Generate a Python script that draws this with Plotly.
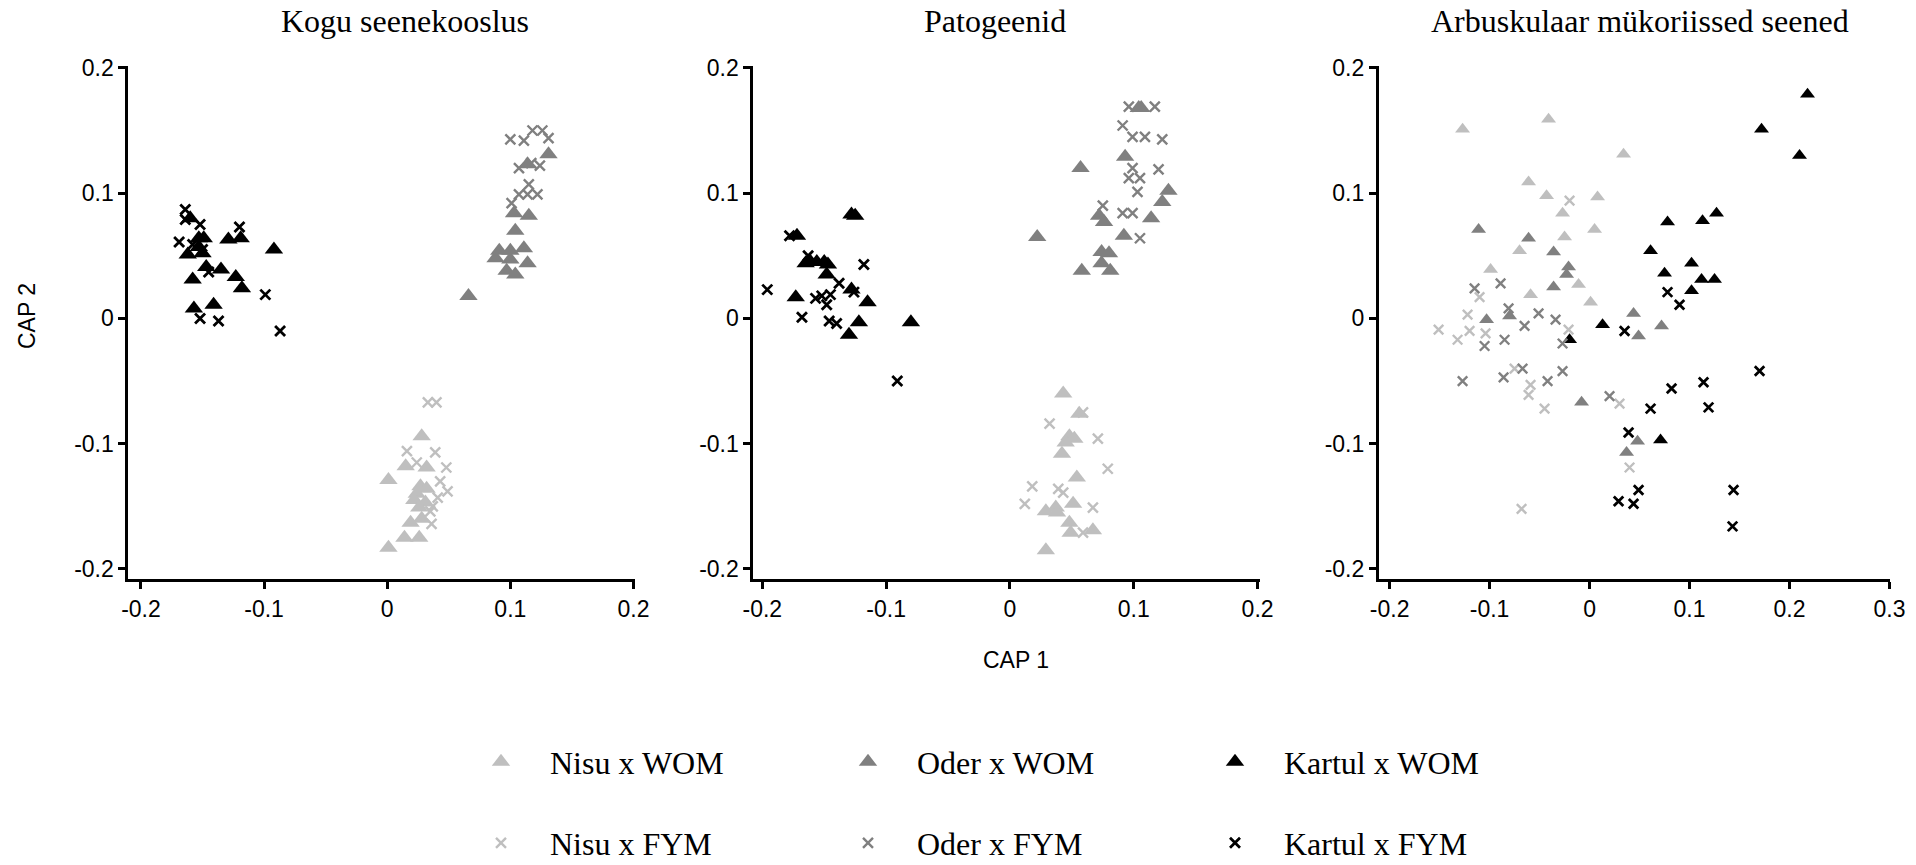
import plotly.graph_objects as go

W, H = 1916, 865

# ---------------- data ----------------
# Panel 1: Kogu seenekooslus
p1_nisu_wom_x = [0.028, 0.015, 0.032, 0.001, 0.027, 0.032, 0.024, 0.022, 0.031, 0.019, 0.028, 0.014, 0.026, 0.001, 0.026]
p1_nisu_wom_y = [-0.094, -0.118, -0.119, -0.129, -0.134, -0.136, -0.140, -0.145, -0.147, -0.163, -0.160, -0.175, -0.175, -0.183, -0.151]
p1_oder_wom_x = [0.131, 0.114, 0.103, 0.115, 0.104, 0.091, 0.100, 0.111, 0.088, 0.100, 0.114, 0.097, 0.104, 0.066]
p1_oder_wom_y = [0.131, 0.123, 0.084, 0.082, 0.070, 0.054, 0.054, 0.056, 0.048, 0.047, 0.044, 0.038, 0.035, 0.018]
p1_kartul_wom_x = [-0.160, -0.153, -0.149, -0.162, -0.129, -0.119, -0.092, -0.147, -0.135, -0.158, -0.123, -0.118, -0.157, -0.141, -0.153, -0.150]
p1_kartul_wom_y = [0.080, 0.064, 0.064, 0.051, 0.063, 0.064, 0.055, 0.041, 0.039, 0.031, 0.033, 0.024, 0.008, 0.011, 0.057, 0.052]
p1_nisu_fym_x = [0.033, 0.040, 0.016, 0.039, 0.024, 0.048, 0.043, 0.049, 0.041, 0.037, 0.035, 0.036]
p1_nisu_fym_y = [-0.067, -0.067, -0.106, -0.107, -0.115, -0.119, -0.130, -0.138, -0.143, -0.150, -0.154, -0.164]
p1_oder_fym_x = [0.100, 0.111, 0.118, 0.126, 0.131, 0.107, 0.117, 0.124, 0.115, 0.107, 0.114, 0.122, 0.101]
p1_oder_fym_y = [0.143, 0.142, 0.150, 0.150, 0.144, 0.120, 0.124, 0.122, 0.107, 0.099, 0.099, 0.099, 0.092]
p1_kartul_fym_x = [-0.164, -0.164, -0.152, -0.169, -0.158, -0.150, -0.120, -0.145, -0.099, -0.152, -0.137, -0.087]
p1_kartul_fym_y = [0.087, 0.079, 0.075, 0.061, 0.059, 0.055, 0.073, 0.037, 0.019, 0.000, -0.002, -0.010]

# Panel 2: Patogeenid
p2_nisu_wom_x = [0.043, 0.056, 0.048, 0.052, 0.045, 0.042, 0.054, 0.037, 0.029, 0.051, 0.048, 0.049, 0.067, 0.029, 0.038]
p2_nisu_wom_y = [-0.060, -0.076, -0.094, -0.096, -0.099, -0.108, -0.127, -0.151, -0.154, -0.148, -0.163, -0.171, -0.169, -0.185, -0.155]
p2_oder_wom_x = [0.104, 0.106, 0.057, 0.093, 0.128, 0.123, 0.022, 0.072, 0.076, 0.114, 0.092, 0.074, 0.080, 0.058, 0.074, 0.081]
p2_oder_wom_y = [0.168, 0.168, 0.120, 0.129, 0.102, 0.093, 0.065, 0.082, 0.077, 0.080, 0.066, 0.053, 0.052, 0.038, 0.044, 0.038]
p2_kartul_wom_x = [-0.128, -0.125, -0.172, -0.161, -0.156, -0.150, -0.147, -0.165, -0.148, -0.173, -0.128, -0.115, -0.122, -0.130, -0.080]
p2_kartul_wom_y = [0.083, 0.082, 0.066, 0.045, 0.045, 0.045, 0.043, 0.044, 0.035, 0.017, 0.023, 0.013, -0.003, -0.013, -0.003]
p2_nisu_fym_x = [0.032, 0.059, 0.071, 0.079, 0.018, 0.039, 0.012, 0.067, 0.059, 0.043]
p2_nisu_fym_y = [-0.084, -0.075, -0.096, -0.120, -0.134, -0.136, -0.148, -0.151, -0.171, -0.139]
p2_oder_fym_x = [0.096, 0.117, 0.091, 0.099, 0.109, 0.123, 0.099, 0.120, 0.096, 0.105, 0.103, 0.075, 0.091, 0.099, 0.105]
p2_oder_fym_y = [0.169, 0.169, 0.154, 0.145, 0.145, 0.143, 0.120, 0.119, 0.112, 0.112, 0.101, 0.090, 0.084, 0.084, 0.064]
p2_kartul_fym_x = [-0.196, -0.178, -0.163, -0.168, -0.157, -0.148, -0.145, -0.138, -0.146, -0.140, -0.126, -0.118, -0.091, -0.152]
p2_kartul_fym_y = [0.023, 0.066, 0.050, 0.001, 0.016, 0.011, 0.019, 0.028, -0.002, -0.004, 0.021, 0.043, -0.050, 0.018]

# Panel 3: Arbuskulaar mükoriissed seened
p3_nisu_wom_x = [-0.127, -0.041, 0.034, -0.061, -0.043, 0.008, -0.027, -0.025, 0.005, -0.070, -0.099, -0.011, -0.059, 0.001]
p3_nisu_wom_y = [0.151, 0.159, 0.131, 0.109, 0.098, 0.097, 0.084, 0.065, 0.071, 0.054, 0.039, 0.027, 0.019, 0.013]
p3_oder_wom_x = [-0.111, -0.061, -0.036, -0.021, -0.023, -0.036, -0.103, -0.080, 0.044, 0.049, 0.072, -0.008, 0.048, 0.037]
p3_oder_wom_y = [0.071, 0.064, 0.053, 0.041, 0.035, 0.025, -0.001, 0.002, 0.004, -0.014, -0.006, -0.067, -0.098, -0.107]
p3_kartul_wom_x = [0.218, 0.172, 0.210, 0.127, 0.113, 0.078, 0.061, 0.102, 0.075, 0.112, 0.125, 0.102, 0.013, -0.020, 0.071]
p3_kartul_wom_y = [0.179, 0.151, 0.130, 0.084, 0.078, 0.077, 0.054, 0.044, 0.036, 0.031, 0.031, 0.022, -0.005, -0.017, -0.097]
p3_nisu_fym_x = [-0.020, -0.110, -0.122, -0.151, -0.120, -0.132, -0.104, -0.021, -0.075, -0.059, -0.061, -0.045, 0.030, 0.040, -0.068]
p3_nisu_fym_y = [0.094, 0.017, 0.003, -0.009, -0.010, -0.017, -0.012, -0.009, -0.040, -0.053, -0.061, -0.072, -0.068, -0.119, -0.152]
p3_oder_fym_x = [-0.115, -0.089, -0.081, -0.051, -0.034, -0.065, -0.105, -0.085, -0.027, -0.127, -0.086, -0.067, -0.042, -0.027, 0.020]
p3_oder_fym_y = [0.024, 0.028, 0.008, 0.004, -0.001, -0.006, -0.022, -0.017, -0.020, -0.050, -0.047, -0.040, -0.050, -0.042, -0.062]
p3_kartul_fym_x = [0.078, 0.090, 0.035, 0.170, 0.082, 0.114, 0.061, 0.119, 0.039, 0.049, 0.029, 0.044, 0.144, 0.143]
p3_kartul_fym_y = [0.021, 0.011, -0.010, -0.042, -0.056, -0.051, -0.072, -0.071, -0.091, -0.137, -0.146, -0.148, -0.137, -0.166]

panel_titles = ["Kogu seenekooslus", "Patogeenid", "Arbuskulaar mükoriissed seened"]
group_names = ["Nisu x WOM", "Oder x WOM", "Kartul x WOM", "Nisu x FYM", "Oder x FYM", "Kartul x FYM"]
x_tickvals_12 = [-0.2, -0.1, 0, 0.1, 0.2]
x_ticktext_12 = ["-0.2", "-0.1", "0", "0.1", "0.2"]
x_tickvals_3 = [-0.2, -0.1, 0, 0.1, 0.2, 0.3]
x_ticktext_3 = ["-0.2", "-0.1", "0", "0.1", "0.2", "0.3"]
y_tickvals = [-0.2, -0.1, 0, 0.1, 0.2]
y_ticktext = ["-0.2", "-0.1", "0", "0.1", "0.2"]

# ---------------- styling ----------------
LIGHT, MID, DARK = "#bfbfbf", "#808080", "#000000"
colors = [LIGHT, MID, DARK, LIGHT, MID, DARK]
SERIF = "Liberation Serif, Times New Roman, serif"
SANS = "Liberation Sans, Arial, sans-serif"

panels = [
    [(p1_nisu_wom_x, p1_nisu_wom_y), (p1_oder_wom_x, p1_oder_wom_y), (p1_kartul_wom_x, p1_kartul_wom_y),
     (p1_nisu_fym_x, p1_nisu_fym_y), (p1_oder_fym_x, p1_oder_fym_y), (p1_kartul_fym_x, p1_kartul_fym_y)],
    [(p2_nisu_wom_x, p2_nisu_wom_y), (p2_oder_wom_x, p2_oder_wom_y), (p2_kartul_wom_x, p2_kartul_wom_y),
     (p2_nisu_fym_x, p2_nisu_fym_y), (p2_oder_fym_x, p2_oder_fym_y), (p2_kartul_fym_x, p2_kartul_fym_y)],
    [(p3_nisu_wom_x, p3_nisu_wom_y), (p3_oder_wom_x, p3_oder_wom_y), (p3_kartul_wom_x, p3_kartul_wom_y),
     (p3_nisu_fym_x, p3_nisu_fym_y), (p3_oder_fym_x, p3_oder_fym_y), (p3_kartul_fym_x, p3_kartul_fym_y)],
]
tri_sizes = [16, 16, 13]
x_sizes = [10, 10, 9.5]

fig = go.Figure()
for pi, groups in enumerate(panels):
    xa = "x" if pi == 0 else f"x{pi+1}"
    ya = "y" if pi == 0 else f"y{pi+1}"
    for gi, (gx, gy) in enumerate(groups):
        is_wom = gi < 3
        col = colors[gi]
        if is_wom:
            marker = dict(symbol="triangle-up", size=tri_sizes[pi], color=col, line=dict(width=0))
        else:
            marker = dict(symbol="x-thin", size=x_sizes[pi], color=col,
                          line=dict(width=2.8 if col == DARK else 2.4, color=col))
        fig.add_trace(go.Scatter(
            x=gx, y=gy, mode="markers", marker=marker, name=group_names[gi],
            xaxis=xa, yaxis=ya, showlegend=(pi == 0),
            legend="legend" if is_wom else "legend2",
            hoverinfo="skip",
        ))

def px_x(p):
    return p / W

def px_y(p):
    return 1 - p / H

ydom = [px_y(579), px_y(66)]
axis_common = dict(showline=True, linewidth=3, linecolor="black", mirror=False,
                   ticks="outside", ticklen=7, tickwidth=3, tickcolor="black",
                   showgrid=False, zeroline=False,
                   tickfont=dict(family=SANS, size=23, color="black"))

legend_common = dict(orientation="h", x=px_x(452), xanchor="left", yanchor="middle",
                     font=dict(family=SERIF, size=32, color="black"), itemwidth=88,
                     entrywidth=264, entrywidthmode="pixels",
                     bgcolor="rgba(0,0,0,0)", borderwidth=0)

fig.update_layout(
    width=W, height=H,
    margin=dict(l=0, r=0, t=0, b=0, autoexpand=False),
    paper_bgcolor="white", plot_bgcolor="white",
    xaxis=dict(domain=[px_x(128.4), px_x(634.7)], range=[-0.2102, 0.201], anchor="y",
               tickmode="array", tickvals=x_tickvals_12, ticktext=x_ticktext_12, **axis_common),
    yaxis=dict(domain=ydom, range=[-0.208, 0.2015], anchor="x",
               tickmode="array", tickvals=y_tickvals, ticktext=y_ticktext, **axis_common),
    xaxis2=dict(domain=[px_x(753.4), px_x(1259.7)], range=[-0.2072, 0.2017], anchor="y2",
                tickmode="array", tickvals=x_tickvals_12, ticktext=x_ticktext_12, **axis_common),
    yaxis2=dict(domain=ydom, range=[-0.208, 0.2015], anchor="x2",
                tickmode="array", tickvals=y_tickvals, ticktext=y_ticktext, **axis_common),
    xaxis3=dict(domain=[px_x(1378.9), px_x(1890)], range=[-0.2107, 0.3005], anchor="y3",
                tickmode="array", tickvals=x_tickvals_3, ticktext=x_ticktext_3, **axis_common),
    yaxis3=dict(domain=ydom, range=[-0.208, 0.2015], anchor="x3",
                tickmode="array", tickvals=y_tickvals, ticktext=y_ticktext, **axis_common),
    legend=dict(y=px_y(762), **legend_common),
    legend2=dict(y=px_y(843), **legend_common),
)

title_x = [405, 995, 1640]
for t, tx in zip(panel_titles, title_x):
    fig.add_annotation(text=t, x=px_x(tx), y=px_y(21), xref="paper", yref="paper",
                       xanchor="center", yanchor="middle", showarrow=False,
                       font=dict(family=SERIF, size=32, color="black"))

fig.add_annotation(text="CAP 2", x=px_x(27), y=px_y(316), xref="paper", yref="paper",
                   xanchor="center", yanchor="middle", showarrow=False, textangle=-90,
                   font=dict(family=SANS, size=23, color="black"))
fig.add_annotation(text="CAP 1", x=px_x(1016), y=px_y(660), xref="paper", yref="paper",
                   xanchor="center", yanchor="middle", showarrow=False,
                   font=dict(family=SANS, size=23, color="black"))

fig.write_html("out.html")
